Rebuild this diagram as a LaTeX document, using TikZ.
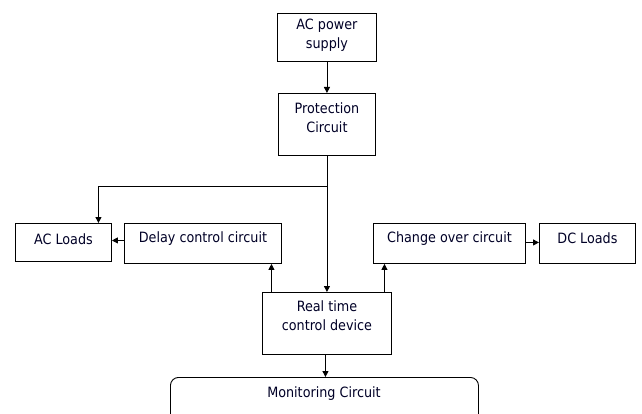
\documentclass[tikz,border=0pt]{standalone}
\usepackage{fontspec}
\setmainfont{DejaVu Sans Condensed}
\usetikzlibrary{arrows.meta}
\begin{document}
\begin{tikzpicture}[x=1pt,y=-1pt,
  box/.style={draw, line width=0.9pt, inner sep=0pt, anchor=north west},
  lbl/.style={font=\fontsize{14.2}{19}\selectfont, align=center, text=black!85!blue},
  arr/.style={line width=0.9pt, -{Triangle[length=6pt,width=6pt]}}]
\useasboundingbox (0,0) rectangle (642,414);
\clip (0,0) rectangle (642,414);
% boxes
\node[box, minimum width=99, minimum height=48] (ac) at (277,13) {};
\node[box, minimum width=97, minimum height=62] (prot) at (278,93) {};
\node[box, minimum width=96, minimum height=38] (acl) at (15,223) {};
\node[box, minimum width=157, minimum height=40] (delay) at (124,223) {};
\node[box, minimum width=129, minimum height=62] (rt) at (262,292) {};
\node[box, minimum width=152, minimum height=40] (chg) at (373,223) {};
\node[box, minimum width=96, minimum height=40] (dc) at (539,223) {};
\node[box, rounded corners=8pt, minimum width=308, minimum height=60] (mon) at (170,377) {};
% texts
\node[lbl] (tac) at ([yshift=2.5]ac.center) {AC power\\supply};
\node[lbl] (tprot) at ([yshift=7]prot.center) {Protection\\Circuit};
\node[lbl] (tacl) at ([yshift=3.5]acl.center) {AC Loads};
\node[lbl] (tdelay) at ([yshift=5]delay.center) {Delay control circuit};
\node[lbl] (trt) at ([yshift=7.5]rt.center) {Real time\\control device};
\node[lbl] (tchg) at ([yshift=5]chg.center) {Change over circuit};
\node[lbl] (tdc) at ([yshift=5]dc.center) {DC Loads};
\node[lbl] (tmon) at (324,393.5) {Monitoring Circuit};
% connectors
\draw[arr] (ac.south) -- (ac.south |- prot.north);
\draw[arr] (prot.south -| rt.north) -- (rt.north);
\coordinate (br) at (326.5,186);
\draw[arr] (br) -| ([xshift=35]acl.north);
\draw[arr] ([yshift=3]delay.west) -- ([yshift=3]delay.west -| acl.east);
\draw[arr] ([xshift=-55.5]rt.north) -- ([xshift=-55.5]rt.north |- delay.south);
\draw[arr] ([xshift=57.5]rt.north) -- ([xshift=57.5]rt.north |- chg.south);
\draw[arr] ([yshift=1]chg.east) -- ([yshift=1]chg.east -| dc.west);
\draw[arr] ([xshift=-1.5]rt.south) -- ([xshift=-1.5]rt.south |- mon.north);
\end{tikzpicture}
\end{document}
